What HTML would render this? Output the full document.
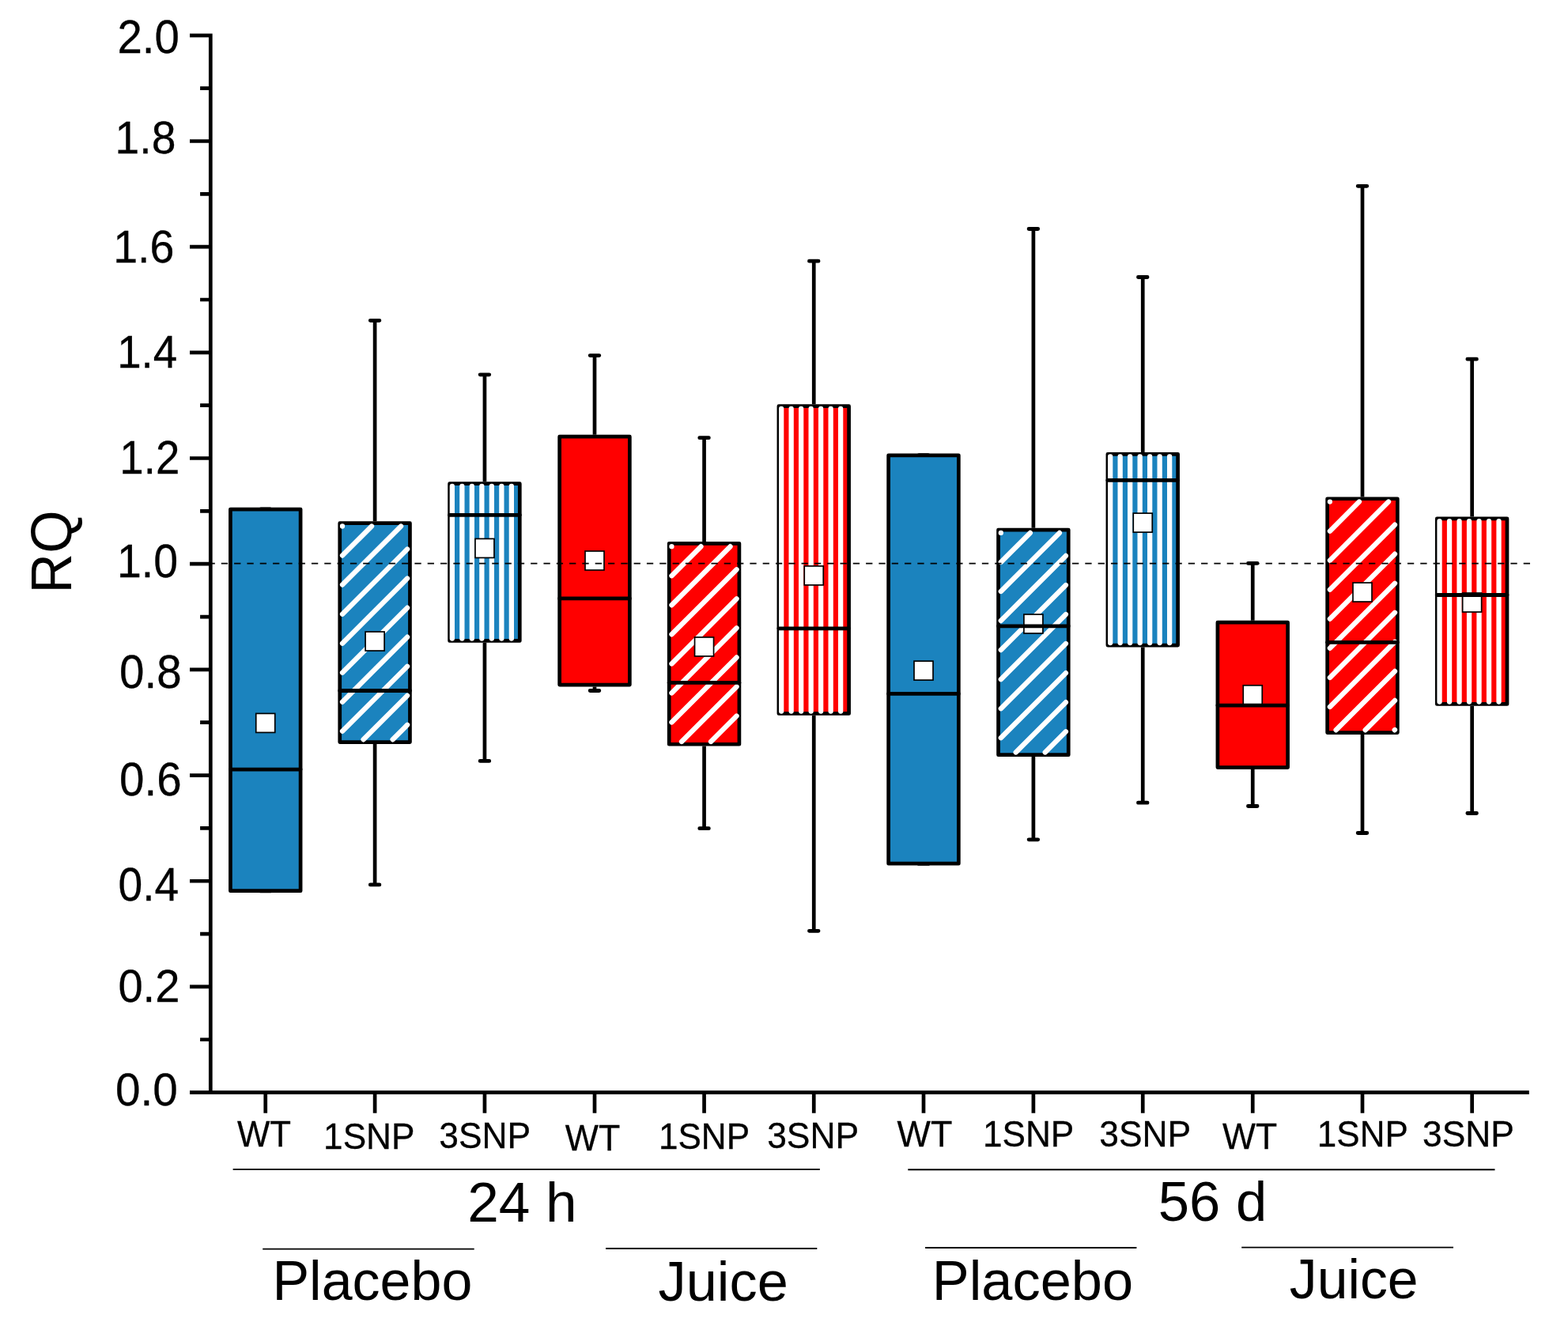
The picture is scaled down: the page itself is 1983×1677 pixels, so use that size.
<!DOCTYPE html>
<html lang="en"><head><meta charset="utf-8"><title>RQ box plot</title>
<style>html,body{margin:0;padding:0;background:#fff}body{width:1983px;height:1677px;overflow:hidden}svg{display:block}</style>
</head><body>
<svg width="1983" height="1677" viewBox="0 0 1983 1677">
<rect width="1983" height="1677" fill="#fff"/>
<g>
<path d="M329.95 644.05h11.6M329.95 1126.65h11.6" stroke="#000" stroke-width="5.3" stroke-linecap="round" fill="none"/>
<rect x="291.4" y="644.05" width="88.7" height="482.6" fill="#1b83be" stroke="#000" stroke-width="4.7" stroke-linejoin="round"/>
<rect x="323.75" y="902.4" width="24" height="24" fill="#fff" stroke="#000" stroke-width="1.7"/>
<path d="M291.35 973.1H380.15" stroke="#000" stroke-width="4.8" stroke-linecap="round" fill="none"/>
</g>
<g>
<path d="M474.1 405.35V659.3M474.1 940.9V1118.9" stroke="#000" stroke-width="4.7" fill="none"/>
<path d="M468.3 405.35h11.6M468.3 1118.9h11.6" stroke="#000" stroke-width="4.8" stroke-linecap="round" fill="none"/>
<rect x="429.75" y="661.65" width="88.7" height="276.9" fill="#1b83be" stroke="#000" stroke-width="4.7" stroke-linejoin="round"/>
<path d="M433 665.5L433 665.5M433 702.55L470.05 665.5M433 739.6L507.1 665.5M433 776.65L515.1 694.55M433 813.7L515.1 731.6M433 850.75L515.1 768.65M433 887.8L515.1 805.7M433 924.85L515.1 842.75M459.6 935.3L515.1 879.8M496.65 935.3L515.1 916.85" stroke="#fff" stroke-width="6.3" stroke-linecap="round" fill="none"/>
<rect x="462.1" y="799" width="24" height="24" fill="#fff" stroke="#000" stroke-width="1.7"/>
<path d="M429.7 873.5H518.5" stroke="#000" stroke-width="4.8" stroke-linecap="round" fill="none"/>
</g>
<g>
<path d="M612.95 473.8V609.3M612.95 812.8V962.4" stroke="#000" stroke-width="4.7" fill="none"/>
<path d="M607.15 473.8h11.6M607.15 962.4h11.6" stroke="#000" stroke-width="4.8" stroke-linecap="round" fill="none"/>
<rect x="568.6" y="611.65" width="88.7" height="198.8" fill="#1b83be" stroke="#000" stroke-width="4.7" stroke-linejoin="round"/>
<path d="M571.85 614.8V807.5M584.35 614.8V807.5M596.85 614.8V807.5M609.35 614.8V807.5M621.85 614.8V807.5M634.35 614.8V807.5M646.85 614.8V807.5" stroke="#fff" stroke-width="6.3" stroke-linecap="round" fill="none"/>
<rect x="600.95" y="681.4" width="24" height="24" fill="#fff" stroke="#000" stroke-width="1.7"/>
<path d="M568.55 651.3H657.35" stroke="#000" stroke-width="4.8" stroke-linecap="round" fill="none"/>
</g>
<g>
<path d="M752 449.6V549.8M752 868.4V873.5" stroke="#000" stroke-width="4.7" fill="none"/>
<path d="M746.2 449.6h11.6M746.2 873.5h11.6" stroke="#000" stroke-width="4.8" stroke-linecap="round" fill="none"/>
<rect x="707.65" y="552.15" width="88.7" height="313.9" fill="#ff0000" stroke="#000" stroke-width="4.7" stroke-linejoin="round"/>
<rect x="740" y="697" width="24" height="24" fill="#fff" stroke="#000" stroke-width="1.7"/>
<path d="M707.6 756.9H796.4" stroke="#000" stroke-width="4.8" stroke-linecap="round" fill="none"/>
</g>
<g>
<path d="M890.55 553.7V685M890.55 943.6V1047.7" stroke="#000" stroke-width="4.7" fill="none"/>
<path d="M884.75 553.7h11.6M884.75 1047.7h11.6" stroke="#000" stroke-width="4.8" stroke-linecap="round" fill="none"/>
<rect x="846.2" y="687.35" width="88.7" height="253.9" fill="#ff0000" stroke="#000" stroke-width="4.7" stroke-linejoin="round"/>
<path d="M849.45 691.2L849.45 691.2M849.45 728.25L886.5 691.2M849.45 765.3L923.55 691.2M849.45 802.35L931.55 720.25M849.45 839.4L931.55 757.3M849.45 876.45L931.55 794.35M849.45 913.5L931.55 831.4M862 938L931.55 868.45M899.05 938L931.55 905.5" stroke="#fff" stroke-width="6.3" stroke-linecap="round" fill="none"/>
<rect x="878.55" y="805.9" width="24" height="24" fill="#fff" stroke="#000" stroke-width="1.7"/>
<path d="M846.15 863.4H934.95" stroke="#000" stroke-width="4.8" stroke-linecap="round" fill="none"/>
</g>
<g>
<path d="M1029.25 330.2V511.3M1029.25 904.8V1177.3" stroke="#000" stroke-width="4.7" fill="none"/>
<path d="M1023.45 330.2h11.6M1023.45 1177.3h11.6" stroke="#000" stroke-width="4.8" stroke-linecap="round" fill="none"/>
<rect x="984.9" y="513.65" width="88.7" height="388.8" fill="#ff0000" stroke="#000" stroke-width="4.7" stroke-linejoin="round"/>
<path d="M988.15 516.8V899.5M1000.65 516.8V899.5M1013.15 516.8V899.5M1025.65 516.8V899.5M1038.15 516.8V899.5M1050.65 516.8V899.5M1063.15 516.8V899.5" stroke="#fff" stroke-width="6.3" stroke-linecap="round" fill="none"/>
<rect x="1017.25" y="715.9" width="24" height="24" fill="#fff" stroke="#000" stroke-width="1.7"/>
<path d="M984.85 794.8H1073.65" stroke="#000" stroke-width="4.8" stroke-linecap="round" fill="none"/>
</g>
<g>
<path d="M1162.2 575.85h11.6M1162.2 1092.15h11.6" stroke="#000" stroke-width="5.3" stroke-linecap="round" fill="none"/>
<rect x="1123.65" y="575.85" width="88.7" height="516.3" fill="#1b83be" stroke="#000" stroke-width="4.7" stroke-linejoin="round"/>
<rect x="1156" y="836.1" width="24" height="24" fill="#fff" stroke="#000" stroke-width="1.7"/>
<path d="M1123.6 877.4H1212.4" stroke="#000" stroke-width="4.8" stroke-linecap="round" fill="none"/>
</g>
<g>
<path d="M1306.9 289.5V667.7M1306.9 957V1061.8" stroke="#000" stroke-width="4.7" fill="none"/>
<path d="M1301.1 289.5h11.6M1301.1 1061.8h11.6" stroke="#000" stroke-width="4.8" stroke-linecap="round" fill="none"/>
<rect x="1262.55" y="670.05" width="88.7" height="284.6" fill="#1b83be" stroke="#000" stroke-width="4.7" stroke-linejoin="round"/>
<path d="M1265.8 673.9L1265.8 673.9M1265.8 710.95L1302.85 673.9M1265.8 748L1339.9 673.9M1265.8 785.05L1347.9 702.95M1265.8 822.1L1347.9 740M1265.8 859.15L1347.9 777.05M1265.8 896.2L1347.9 814.1M1265.8 933.25L1347.9 851.15M1284.7 951.4L1347.9 888.2M1321.75 951.4L1347.9 925.25" stroke="#fff" stroke-width="6.3" stroke-linecap="round" fill="none"/>
<rect x="1294.9" y="777" width="24" height="24" fill="#fff" stroke="#000" stroke-width="1.7"/>
<path d="M1262.5 791.8H1351.3" stroke="#000" stroke-width="4.8" stroke-linecap="round" fill="none"/>
</g>
<g>
<path d="M1445.25 350.5V572M1445.25 818.4V1015.2" stroke="#000" stroke-width="4.7" fill="none"/>
<path d="M1439.45 350.5h11.6M1439.45 1015.2h11.6" stroke="#000" stroke-width="4.8" stroke-linecap="round" fill="none"/>
<rect x="1400.9" y="574.35" width="88.7" height="241.7" fill="#1b83be" stroke="#000" stroke-width="4.7" stroke-linejoin="round"/>
<path d="M1404.15 577.5V813.1M1416.65 577.5V813.1M1429.15 577.5V813.1M1441.65 577.5V813.1M1454.15 577.5V813.1M1466.65 577.5V813.1M1479.15 577.5V813.1" stroke="#fff" stroke-width="6.3" stroke-linecap="round" fill="none"/>
<rect x="1433.25" y="649.1" width="24" height="24" fill="#fff" stroke="#000" stroke-width="1.7"/>
<path d="M1400.85 607.4H1489.65" stroke="#000" stroke-width="4.8" stroke-linecap="round" fill="none"/>
</g>
<g>
<path d="M1584.25 712.4V784.8M1584.25 972.9V1019.5" stroke="#000" stroke-width="4.7" fill="none"/>
<path d="M1578.45 712.4h11.6M1578.45 1019.5h11.6" stroke="#000" stroke-width="4.8" stroke-linecap="round" fill="none"/>
<rect x="1539.9" y="787.15" width="88.7" height="183.4" fill="#ff0000" stroke="#000" stroke-width="4.7" stroke-linejoin="round"/>
<rect x="1572.25" y="866.8" width="24" height="24" fill="#fff" stroke="#000" stroke-width="1.7"/>
<path d="M1539.85 892.1H1628.65" stroke="#000" stroke-width="4.8" stroke-linecap="round" fill="none"/>
</g>
<g>
<path d="M1723 235.3V628.4M1723 928.9V1053.5" stroke="#000" stroke-width="4.7" fill="none"/>
<path d="M1717.2 235.3h11.6M1717.2 1053.5h11.6" stroke="#000" stroke-width="4.8" stroke-linecap="round" fill="none"/>
<rect x="1678.65" y="630.75" width="88.7" height="295.8" fill="#ff0000" stroke="#000" stroke-width="4.7" stroke-linejoin="round"/>
<path d="M1681.9 634.6L1681.9 634.6M1681.9 671.65L1718.95 634.6M1681.9 708.7L1756 634.6M1681.9 745.75L1764 663.65M1681.9 782.8L1764 700.7M1681.9 819.85L1764 737.75M1681.9 856.9L1764 774.8M1681.9 893.95L1764 811.85M1689.6 923.3L1764 848.9M1726.65 923.3L1764 885.95M1763.7 923.3L1764 923" stroke="#fff" stroke-width="6.3" stroke-linecap="round" fill="none"/>
<rect x="1711" y="737" width="24" height="24" fill="#fff" stroke="#000" stroke-width="1.7"/>
<path d="M1678.6 812.3H1767.4" stroke="#000" stroke-width="4.8" stroke-linecap="round" fill="none"/>
</g>
<g>
<path d="M1861.65 454.2V653.6M1861.65 892.8V1028.5" stroke="#000" stroke-width="4.7" fill="none"/>
<path d="M1855.85 454.2h11.6M1855.85 1028.5h11.6" stroke="#000" stroke-width="4.8" stroke-linecap="round" fill="none"/>
<rect x="1817.3" y="655.95" width="88.7" height="234.5" fill="#ff0000" stroke="#000" stroke-width="4.7" stroke-linejoin="round"/>
<path d="M1820.55 659.1V887.5M1833.05 659.1V887.5M1845.55 659.1V887.5M1858.05 659.1V887.5M1870.55 659.1V887.5M1883.05 659.1V887.5M1895.55 659.1V887.5" stroke="#fff" stroke-width="6.3" stroke-linecap="round" fill="none"/>
<rect x="1849.65" y="750" width="24" height="24" fill="#fff" stroke="#000" stroke-width="1.7"/>
<path d="M1817.25 752.5H1906.05" stroke="#000" stroke-width="4.8" stroke-linecap="round" fill="none"/>
</g>
<path d="M263.5 712.6H1936" stroke="#000" stroke-width="1.8" stroke-dasharray="8.3 8.006" fill="none"/>
<path d="M266.3 42.4V1381.6M240 1381.6H1933.8M253.1 1314.76H266.3M240 1247.92H266.3M253.1 1181.08H266.3M240 1114.24H266.3M253.1 1047.4H266.3M240 980.56H266.3M253.1 913.72H266.3M240 846.88H266.3M253.1 780.04H266.3M240 713.2H266.3M253.1 646.36H266.3M240 579.52H266.3M253.1 512.68H266.3M240 445.84H266.3M253.1 379H266.3M240 312.16H266.3M253.1 245.32H266.3M240 178.48H266.3M253.1 111.64H266.3M240 44.8H266.3M335.75 1381.6V1407.8M474.1 1381.6V1407.8M612.95 1381.6V1407.8M752 1381.6V1407.8M890.55 1381.6V1407.8M1029.25 1381.6V1407.8M1168 1381.6V1407.8M1306.9 1381.6V1407.8M1445.25 1381.6V1407.8M1584.25 1381.6V1407.8M1723 1381.6V1407.8M1861.65 1381.6V1407.8" stroke="#000" stroke-width="4.7" fill="none"/>
<g font-family="'Liberation Sans', Arial, Helvetica, sans-serif" fill="#000">
<text transform="translate(148.43 66.5) scale(0.9679 1)" font-size="58.3" stroke="#000" stroke-width="0.3">2.0</text>
<text transform="translate(145.61 194.1) scale(0.9476 1)" font-size="58.3" stroke="#000" stroke-width="0.3">1.8</text>
<text transform="translate(143.18 331.8) scale(0.9530 1)" font-size="58.3" stroke="#000" stroke-width="0.3">1.6</text>
<text transform="translate(148.15 464.7) scale(0.9379 1)" font-size="58.3" stroke="#000" stroke-width="0.3">1.4</text>
<text transform="translate(151.35 598.8) scale(0.9370 1)" font-size="58.3" stroke="#000" stroke-width="0.3">1.2</text>
<text transform="translate(147.99 730) scale(0.9506 1)" font-size="58.3" stroke="#000" stroke-width="0.3">1.0</text>
<text transform="translate(151.09 869.9) scale(0.9695 1)" font-size="58.3" stroke="#000" stroke-width="0.3">0.8</text>
<text transform="translate(151.09 1005.8) scale(0.9695 1)" font-size="58.3" stroke="#000" stroke-width="0.3">0.6</text>
<text transform="translate(149.44 1138.7) scale(0.9468 1)" font-size="58.3" stroke="#000" stroke-width="0.3">0.4</text>
<text transform="translate(149.4 1266.8) scale(0.9632 1)" font-size="58.3" stroke="#000" stroke-width="0.3">0.2</text>
<text transform="translate(146.08 1397.8) scale(0.9723 1)" font-size="58.3" stroke="#000" stroke-width="0.3">0.0</text>
<text transform="translate(299.98 1450.2) scale(0.9535 1)" font-size="46" stroke="#000" stroke-width="0.3">WT</text>
<text transform="translate(409.09 1452.7) scale(0.9597 1)" font-size="46" stroke="#000" stroke-width="0.3">1SNP</text>
<text transform="translate(555.24 1451.9) scale(0.9644 1)" font-size="46" stroke="#000" stroke-width="0.3">3SNP</text>
<text transform="translate(714.78 1455.4) scale(0.9706 1)" font-size="46" stroke="#000" stroke-width="0.3">WT</text>
<text transform="translate(832.89 1452.7) scale(0.9588 1)" font-size="46" stroke="#000" stroke-width="0.3">1SNP</text>
<text transform="translate(970.13 1451.9) scale(0.9652 1)" font-size="46" stroke="#000" stroke-width="0.3">3SNP</text>
<text transform="translate(1134.58 1450.2) scale(0.9763 1)" font-size="46" stroke="#000" stroke-width="0.3">WT</text>
<text transform="translate(1242.89 1450.2) scale(0.9597 1)" font-size="46" stroke="#000" stroke-width="0.3">1SNP</text>
<text transform="translate(1390.34 1450.2) scale(0.9644 1)" font-size="46" stroke="#000" stroke-width="0.3">3SNP</text>
<text transform="translate(1545.98 1452.7) scale(0.9663 1)" font-size="46" stroke="#000" stroke-width="0.3">WT</text>
<text transform="translate(1665.8 1450.2) scale(0.9570 1)" font-size="46" stroke="#000" stroke-width="0.3">1SNP</text>
<text transform="translate(1799.03 1450.2) scale(0.9652 1)" font-size="46" stroke="#000" stroke-width="0.3">3SNP</text>
<text transform="translate(591.14 1545.2) scale(1.0100 1)" font-size="70.5">24 h</text>
<text transform="translate(1464.78 1544) scale(1.0016 1)" font-size="70.5">56 d</text>
<text transform="translate(344.43 1644.3) scale(0.9929 1)" font-size="70.5">Placebo</text>
<text transform="translate(832.54 1645.3) scale(0.9982 1)" font-size="70.5">Juice</text>
<text transform="translate(1178.69 1643.6) scale(0.9990 1)" font-size="70.5">Placebo</text>
<text transform="translate(1630.75 1641.8) scale(0.9901 1)" font-size="70.5">Juice</text>
<text transform="translate(90.2 750.38) rotate(-90) scale(0.9790 1)" font-size="71.5">RQ</text>
</g>
<path d="M294.6 1478.9H1036.9M1148.3 1479.2H1890.5M332.2 1579.6H599.7M766.1 1579H1033.3M1170.1 1578H1437.4M1570.2 1577.6H1838" stroke="#000" stroke-width="1.9" fill="none"/>
</svg>
</body></html>
